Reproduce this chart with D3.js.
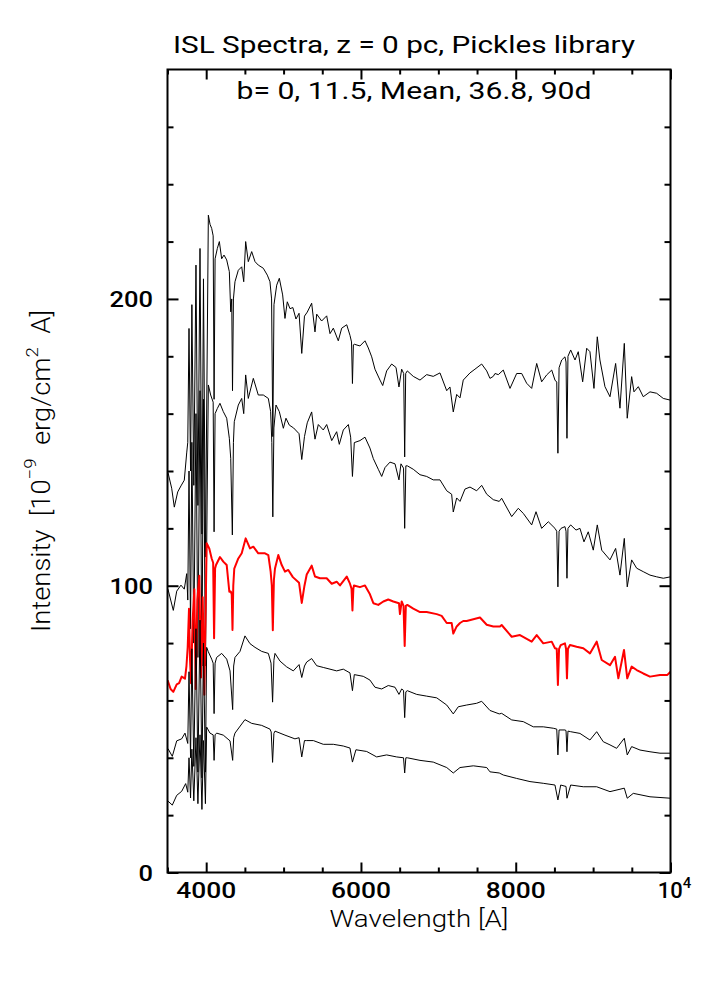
<!DOCTYPE html>
<html><head><meta charset="utf-8">
<script src="https://cdn.jsdelivr.net/npm/d3@7"></script>
<style>
html,body{margin:0;padding:0;background:#fff;}
svg{display:block;}
text{font-family:Roboto,"Liberation Sans",sans-serif;fill:#000;}
</style></head>
<body>
<svg id="chart" width="706" height="1008"></svg>
<script>
// ---- data: [wavelength (A), intensity (1e-9 erg/cm2 A)] ----
const specB0 = [[3506,139.5],[3554,134],[3588,127.4],[3632,132.7],[3674,134.8],[3717,136.8],[3748,146.3],[3762,150],[3778,189.7],[3798,140],[3815,198],[3840,135],[3868,211.8],[3893,128],[3920,217.6],[3945,118],[3965,207],[3990,110],[4028,229.2],[4050,226],[4071,224.6],[4090,222],[4102,165],[4115,214],[4144,217.6],[4170,220],[4200,214],[4230,215.3],[4265,213.6],[4299,209.5],[4317,195.5],[4330,200],[4340,168],[4352,200],[4372,206],[4415,210],[4459,211.2],[4485,206],[4510,220],[4544,213],[4588,216.5],[4631,213],[4673,211.8],[4738,210.7],[4790,208.3],[4824,206],[4845,200],[4861,152],[4876,198],[4911,204.8],[4945,207.2],[4988,201.4],[5018,193.2],[5048,199],[5083,196.6],[5120,197],[5160,193],[5200,195],[5235,181],[5270,194],[5306,195.4],[5363,198.5],[5406,188.5],[5428,194.7],[5492,192.3],[5557,194.1],[5600,187.9],[5643,189.8],[5707,185.4],[5751,189.8],[5816,191],[5858,187.3],[5878,185],[5890,170.5],[5902,184],[5914,184.2],[5987,183.6],[6052,185.4],[6095,182.9],[6139,179.8],[6181,175.5],[6246,171.7],[6281,169.8],[6332,174.9],[6397,177.3],[6453,176.1],[6491,169.3],[6526,175.5],[6552,174],[6565,144.9],[6578,174],[6599,174.9],[6676,173],[6763,171.7],[6849,173.6],[6934,173],[7021,174.2],[7108,168],[7150,169.3],[7193,160.6],[7237,166.7],[7280,165.5],[7322,171.7],[7409,174.2],[7473,175.5],[7560,177.3],[7625,174.9],[7667,172.3],[7710,173],[7732,174],[7775,173.6],[7839,175.2],[7926,168.8],[8012,174],[8077,174],[8141,170.6],[8206,168.8],[8271,177.5],[8335,171.1],[8400,173.5],[8465,175.2],[8507,171.7],[8530,171],[8545,146.2],[8560,176],[8594,178.7],[8636,179.8],[8650,178],[8662,151.4],[8675,180],[8710,182.2],[8766,178.7],[8808,181.6],[8865,171.1],[8917,182.8],[8959,181.6],[9011,168.8],[9054,186.8],[9088,178.7],[9153,169.4],[9218,165.9],[9291,177.5],[9347,161.9],[9403,184.5],[9441,158.4],[9498,172.9],[9528,167.6],[9584,169.4],[9648,165.9],[9735,167.6],[9821,167.1],[9907,165.3],[10000,164.7]];

const specB11 = [[3506,98.8],[3575,91.4],[3619,98.1],[3674,100.2],[3717,98.8],[3748,104.2],[3762,95],[3778,140],[3798,85],[3815,150],[3840,80],[3868,160],[3893,75],[3920,168],[3945,72],[3965,165],[3990,72],[4028,170],[4058,166.5],[4090,164],[4102,118.8],[4115,160],[4144,161.8],[4178,163.6],[4221,160.7],[4265,158.4],[4299,151.4],[4317,144.4],[4338,117.7],[4352,150],[4363,157.2],[4415,163],[4459,165.3],[4485,160],[4510,173.5],[4544,165.3],[4609,172.3],[4673,166.5],[4738,166.5],[4803,165.3],[4833,160.7],[4848,150],[4861,124],[4875,155],[4902,163],[4945,160.7],[4997,154.9],[5031,158.4],[5074,156],[5130,155],[5200,153],[5235,144],[5270,152],[5306,156.8],[5363,160.6],[5406,151.1],[5449,156.2],[5513,154.3],[5557,156.2],[5622,150.6],[5686,153.7],[5720,149.3],[5772,154.3],[5837,156.2],[5867,151.8],[5890,138.1],[5914,149.9],[5987,150.6],[6052,151.8],[6116,148],[6160,144.3],[6224,140.6],[6268,138.1],[6311,141.2],[6375,143.1],[6440,142.5],[6491,136.9],[6517,142.5],[6550,141],[6565,120],[6580,141.8],[6599,141.8],[6676,140.6],[6763,138.7],[6849,138.1],[6934,136.9],[7021,136.9],[7108,133.1],[7172,131.9],[7193,125.7],[7237,130.6],[7280,129.4],[7344,133.7],[7409,134.4],[7495,133.1],[7560,135],[7625,131.9],[7710,130],[7787,129.4],[7818,130.5],[7948,124.1],[8033,127],[8098,125.2],[8206,121.2],[8262,125.8],[8335,120],[8421,122.3],[8507,120],[8530,119],[8545,99.6],[8560,119],[8585,120],[8636,120.6],[8650,119],[8662,102.6],[8675,120],[8710,121.2],[8779,119.4],[8830,120],[8882,115.3],[8937,118.8],[9002,112.4],[9054,121.2],[9111,112.4],[9218,109],[9291,113],[9347,103.7],[9403,116.5],[9441,99.6],[9498,109],[9563,106.1],[9648,104.9],[9735,103.7],[9821,103.1],[9907,102.6],[10000,103.1]];

const specMean = [[3502,67],[3540,64],[3575,63],[3619,65.6],[3650,66],[3683,68.3],[3726,67.6],[3745,72],[3761,78.5],[3778,92],[3790,75],[3804,66],[3825,88],[3847,98.8],[3864,64],[3885,95],[3911,103.5],[3933,68],[3955,96],[3976,62],[4006,114.8],[4040,113],[4071,109.5],[4090,108],[4102,81.7],[4115,106],[4127,107.2],[4178,110],[4221,108.4],[4265,107.2],[4299,97.9],[4317,98],[4330,97],[4340,84.6],[4350,100],[4363,106],[4415,109.5],[4459,111.3],[4510,116.5],[4566,113],[4609,113.6],[4673,111.3],[4760,111.3],[4803,110.7],[4833,104.9],[4848,100],[4861,84.5],[4875,102],[4889,106],[4932,110.7],[4976,107.2],[5018,104.9],[5061,105.5],[5120,103],[5200,101],[5235,94],[5270,100],[5299,103.9],[5363,107],[5406,103.2],[5470,102.6],[5557,102.6],[5622,100.7],[5686,101.4],[5729,100.1],[5816,103.2],[5858,100.7],[5878,99],[5890,91.4],[5902,99],[5910,100.1],[5987,99.5],[6052,100.1],[6116,97],[6160,93.9],[6224,93.3],[6289,94.5],[6353,95.2],[6418,94.5],[6491,93.9],[6504,90.1],[6526,94.5],[6550,93],[6565,79],[6580,93],[6599,93.3],[6676,92],[6763,90.8],[6849,90.8],[6979,90.1],[7043,89.5],[7108,87],[7172,87],[7193,83.3],[7237,85.8],[7280,87],[7322,87.7],[7366,87.7],[7452,88.3],[7538,88.9],[7625,86.4],[7710,85.8],[7796,85.8],[7818,86.3],[7948,82.2],[8055,82.8],[8206,80.5],[8271,82.8],[8356,79.9],[8465,80.5],[8507,78.2],[8530,78],[8545,65.4],[8560,78],[8581,79.3],[8636,79.9],[8650,78],[8662,67.7],[8675,78],[8701,79.3],[8787,78.7],[8873,78.2],[8959,76.4],[9046,80.5],[9111,74.1],[9218,72.3],[9283,75.2],[9326,67.7],[9399,77.6],[9441,67.7],[9498,71.8],[9563,70.6],[9648,69.4],[9735,68.3],[9864,68.9],[9960,68.9],[10000,70]];

const specB37 = [[3506,43.2],[3562,40.5],[3619,45.9],[3683,46.6],[3726,48.6],[3762,45],[3778,70],[3798,40],[3815,78],[3840,37],[3868,85],[3893,35],[3920,88],[3945,33],[3965,80],[3990,35],[4006,78.5],[4027,77],[4071,74.4],[4090,73],[4102,55.4],[4115,73],[4135,75],[4200,76.4],[4265,74.4],[4308,70.3],[4342,56.8],[4355,72],[4372,75],[4437,77.1],[4501,82.5],[4566,79.8],[4631,78.5],[4717,77.1],[4803,76.4],[4838,73],[4858,59.4],[4875,74],[4889,76.4],[4954,73.7],[5040,71.7],[5126,70.3],[5200,72.5],[5235,68],[5270,72],[5299,73.4],[5363,74.6],[5428,72.1],[5513,71.5],[5600,70.9],[5686,70.3],[5772,70.9],[5858,69.6],[5890,63.4],[5914,69],[6030,68.4],[6116,67.1],[6181,64.6],[6268,64],[6353,65.2],[6440,64.6],[6491,62.1],[6526,64],[6550,63.5],[6565,54],[6580,63],[6599,63.4],[6720,62.1],[6849,61.5],[6979,60.9],[7108,58.4],[7193,55.3],[7258,57.8],[7366,58.4],[7495,59],[7560,59.7],[7667,56.5],[7787,55.3],[7818,55.5],[7948,53.2],[8098,52.6],[8227,50.8],[8356,50.8],[8485,50.3],[8530,50],[8545,41],[8560,49.7],[8636,49.7],[8650,49.5],[8662,42.1],[8675,49.3],[8710,49.1],[8830,48.5],[8959,46.2],[9046,49.1],[9131,45.6],[9218,44.5],[9304,43.3],[9403,46.8],[9441,41],[9498,43.9],[9606,42.7],[9735,42.1],[9864,41.6],[10000,41.6]];

const specB90 = [[3506,24.9],[3562,23.5],[3619,26.9],[3683,28.3],[3735,31],[3762,28],[3778,40],[3798,26],[3815,43],[3840,25],[3868,47],[3893,24],[3920,48],[3945,22],[3965,46],[3990,24],[4006,50.7],[4049,48.6],[4090,48],[4102,39.1],[4115,48],[4135,48.6],[4221,47.9],[4308,45.9],[4342,39.1],[4355,47],[4372,48.6],[4501,53.3],[4588,52],[4717,51.3],[4824,50],[4840,49],[4858,38.4],[4875,48.5],[4889,49.3],[5018,47.9],[5147,46.6],[5200,47],[5235,40.3],[5270,46],[5299,46],[5385,46],[5513,44.7],[5643,44.7],[5772,44.1],[5858,43.4],[5890,38.5],[5935,42.8],[6074,42.2],[6203,40.3],[6332,41],[6461,40.3],[6550,40],[6565,34.7],[6580,40],[6599,40],[6763,39.1],[6934,38.5],[7108,36.6],[7193,34.7],[7280,36.6],[7452,37.2],[7625,36.6],[7667,35.1],[7787,34.7],[7839,34],[8012,32.8],[8184,31.7],[8356,31.1],[8507,30.5],[8545,25.3],[8581,30.5],[8650,30],[8662,25.9],[8710,30.5],[8873,29.9],[9046,29.9],[9218,28.2],[9403,29.4],[9441,25.9],[9519,27.6],[9735,26.4],[10000,25.9]];

const seriesNames = ["b=0", "b=11.5", "Mean", "b=36.8", "b=90"];
const seriesColors = ["#000", "#000", "#ff0000", "#000", "#000"];
const xMajorTicks = [4000, 6000, 8000, 10000];
const xMinorTicks = [3500, 4500, 5000, 5500, 6500, 7000, 7500, 8500, 9000, 9500];
const xTickLabels = ["4000", "6000", "8000", "10"];
const yMajorTicks = [0, 100, 200];
const yMinorTicks = [20, 40, 60, 80, 120, 140, 160, 180, 220, 240, 260];
const yTickLabels = ["0", "100", "200"];
const titleText = "ISL Spectra, z = 0 pc, Pickles library";
const subtitleText = "b= 0, 11.5, Mean, 36.8, 90d";

// ---- drawing ----
const svg = d3.select("#chart");
const L = 167.5, R = 670.5, T = 69.5, B = 872.5;
const x = d3.scaleLinear().domain([3500, 10000]).range([L, R]);
const y = d3.scaleLinear().domain([0, 280]).range([B, T]);

svg.append("defs").append("clipPath").attr("id", "clip")
  .append("rect").attr("x", L).attr("y", T).attr("width", R - L).attr("height", B - T);

const line = d3.line().x(d => x(d[0])).y(d => y(d[1]));
const allSeries = [specB0, specB11, specMean, specB37, specB90];
const gLines = svg.append("g").attr("clip-path", "url(#clip)");
allSeries.forEach((s, i) => {
  gLines.append("path").datum(s)
    .attr("d", line)
    .attr("fill", "none")
    .attr("stroke", seriesColors[i])
    .attr("stroke-width", i === 2 ? 2 : 1)
    .attr("stroke-linejoin", "round")
    .attr("data-name", seriesNames[i]);
});

// ticks (inward) using d3 axes
function tickAxis(axisFn, scale, vals, size, tr) {
  const g = svg.append("g").attr("transform", tr)
    .call(axisFn(scale).tickValues(vals).tickSize(size).tickFormat(""));
  g.select(".domain").remove();
  g.selectAll(".tick line").attr("stroke", "#000").attr("stroke-width", 2);
  return g;
}
tickAxis(d3.axisBottom, x, xMajorTicks, -10, `translate(0,${B})`);
tickAxis(d3.axisBottom, x, xMinorTicks, -5, `translate(0,${B})`);
tickAxis(d3.axisTop, x, xMajorTicks, -10, `translate(0,${T})`);
tickAxis(d3.axisTop, x, xMinorTicks, -5, `translate(0,${T})`);
tickAxis(d3.axisLeft, y, yMajorTicks, -11, `translate(${L},0)`);
tickAxis(d3.axisLeft, y, yMinorTicks, -6, `translate(${L},0)`);
tickAxis(d3.axisRight, y, yMajorTicks, -11, `translate(${R},0)`);
tickAxis(d3.axisRight, y, yMinorTicks, -6, `translate(${R},0)`);

// frame
svg.append("rect").attr("x", L).attr("y", T).attr("width", R - L).attr("height", B - T)
  .attr("fill", "none").attr("stroke", "#000").attr("stroke-width", 2);

// x tick labels
xMajorTicks.forEach((v, i) => {
  const t = svg.append("text").attr("y", 898).attr("font-size", 22).attr("font-weight", 500);
  if (v === 10000) {
    t.attr("x", x(v) + 4).attr("text-anchor", "middle");
    t.append("tspan").text(xTickLabels[i]);
    t.append("tspan").attr("dy", -10).attr("font-size", 15).text("4");
  } else {
    t.attr("x", x(v)).attr("text-anchor", "middle")
      .attr("textLength", 60).attr("lengthAdjust", "spacingAndGlyphs").text(xTickLabels[i]);
  }
});
// y tick labels
yMajorTicks.forEach((v, i) => {
  const s = yTickLabels[i];
  svg.append("text").attr("x", 153).attr("y", y(v) + 8.5)
    .attr("text-anchor", "end").attr("font-size", 22).attr("font-weight", 500)
    .attr("textLength", 14.5 * s.length).attr("lengthAdjust", "spacingAndGlyphs").text(s);
});

// titles
svg.append("text").attr("x", 404).attr("y", 53).attr("text-anchor", "middle")
  .attr("font-size", 23).attr("textLength", 462).attr("lengthAdjust", "spacingAndGlyphs").text(titleText);
svg.append("text").attr("x", 414).attr("y", 99).attr("text-anchor", "middle")
  .attr("font-size", 23).attr("textLength", 355).attr("lengthAdjust", "spacingAndGlyphs").text(subtitleText);

svg.append("text").attr("x", (L + R) / 2).attr("y", 927).attr("text-anchor", "middle")
  .attr("font-size", 23).attr("font-weight", 300).attr("fill", "#111")
  .attr("textLength", 179).attr("lengthAdjust", "spacingAndGlyphs").text("Wavelength [A]");

const yt = svg.append("text").attr("transform", `translate(50,${(T + B) / 2}) rotate(-90)`)
  .attr("text-anchor", "middle").attr("font-size", 25).attr("font-weight", 300).attr("fill", "#111")
  .style("white-space", "pre")
  .attr("textLength", 322).attr("lengthAdjust", "spacingAndGlyphs");
yt.append("tspan").text("Intensity  [10");
yt.append("tspan").attr("dy", -14).attr("font-size", 17).text("−9");
yt.append("tspan").attr("dy", 14).text("  erg/cm");
yt.append("tspan").attr("dy", -12).attr("font-size", 17).text("2");
yt.append("tspan").attr("dy", 12).text("  A]");
</script>
</body></html>
